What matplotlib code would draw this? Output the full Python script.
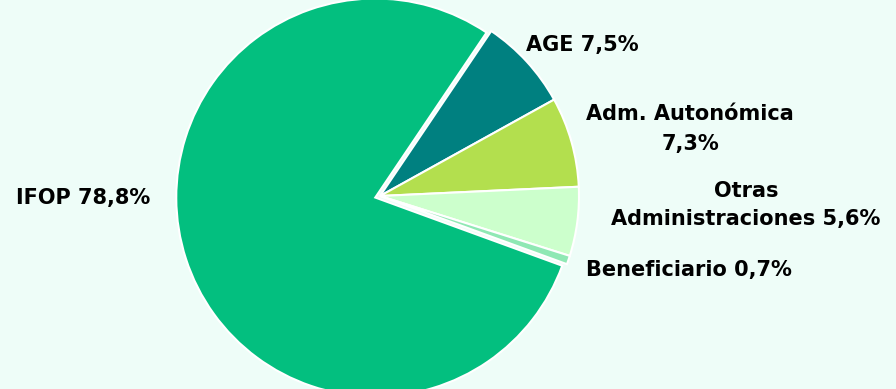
import matplotlib
matplotlib.use("Agg")
import matplotlib.pyplot as plt

# data
labels = ["AGE 7,5%", "Adm. Autonómica\n7,3%", "Otras\nAdministraciones 5,6%",
          "Beneficiario 0,7%", "IFOP 78,8%"]
values = [7.5, 7.3, 5.6, 0.7, 78.8]
colors = ["#008080", "#B3DF4E", "#CCFFCC", "#8FE8B4", "#03BF7F"]
explode = [0, 0, 0, 0, 0.025]

bg = "#EEFDF8"
fig = plt.figure(figsize=(8.96, 3.89), dpi=100, facecolor=bg)
ax = fig.add_axes([0, 0, 1, 1])
ax.set_facecolor(bg)

ax.pie(values, colors=colors, explode=explode, startangle=56, counterclock=False,
       radius=1, center=(0, 0),
       wedgeprops=dict(edgecolor="white", linewidth=1.5))

# px -> data: pie center at (380,196), radius 199 px
R = 199.0
CX, CY = 380, 196
def px(x, y):
    return (x - CX) / R, (CY - y) / R

pos = [px(582, 45), px(690, 129), px(746, 205), px(689, 270), px(83, 198)]
spacing = [1.2, 1.65, 1.45, 1.2, 1.2]
for lab, (x, y), ls in zip(labels, pos, spacing):
    ax.text(x, y, lab, ha="center", va="center", multialignment="center",
            fontsize=15, fontweight="bold", family="DejaVu Sans", linespacing=ls,
            color="black")

ax.set_xlim(-CX / R, (896 - CX) / R)
ax.set_ylim(-(389 - CY) / R, CY / R)
ax.set_aspect("equal")
ax.axis("off")

fig.savefig("out.png", dpi=100, facecolor=bg)
